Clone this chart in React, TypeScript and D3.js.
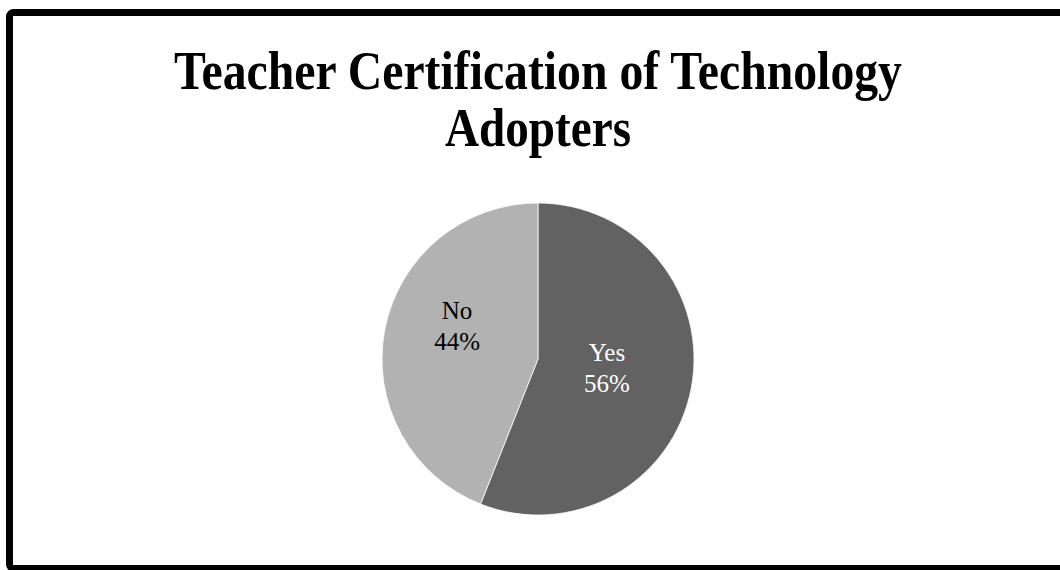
import React from "react";
import * as d3 from "d3";

const title = ["Teacher Certification of Technology", "Adopters"];
const categories = ["Yes", "No"];
const values = [56, 44];
const colors = ["#626262", "#b2b2b2"];
const labelColors = ["#ffffff", "#000000"];

const W = 1060;
const H = 570;

export default function App() {
  const cx = 538;
  const cy = 359;
  const r = 156;
  const pie = d3.pie<number>().sort(null).value((d) => d)(values);
  const arc = d3.arc<d3.PieArcDatum<number>>().innerRadius(0).outerRadius(r);
  const labelArc = d3.arc<d3.PieArcDatum<number>>().innerRadius(r * 0.45).outerRadius(r * 0.45);
  // best-fit nudges of the data labels (Excel-like placement)
  const nudge = [
    [0, -4],
    [-12, -20],
  ];
  const font = "'Liberation Serif', 'Times New Roman', serif";
  return (
    <svg
      width={W}
      height={H}
      style={{ position: "absolute", left: 0, top: 0, background: "#fff" }}
    >
      <rect x={9.5} y={12.5} width={W + 20} height={H - 14} rx={4} fill="#fff" stroke="#000" strokeWidth={7} />
      <text x={cx} y={89} textAnchor="middle" fontFamily={font} fontWeight="bold" fontSize={54} textLength={728} lengthAdjust="spacingAndGlyphs">
        {title[0]}
      </text>
      <text x={cx} y={146} textAnchor="middle" fontFamily={font} fontWeight="bold" fontSize={54} textLength={186} lengthAdjust="spacingAndGlyphs">
        {title[1]}
      </text>
      <g transform={`translate(${cx},${cy})`}>
        {pie.map((p, i) => (
          <path key={i} d={arc(p) || ""} fill={colors[i]} stroke="#ffffff" strokeWidth={0.75} />
        ))}
        {pie.map((p, i) => {
          const [x0, y0] = labelArc.centroid(p);
          const lx = x0 + nudge[i][0];
          const ly = y0 + nudge[i][1];
          return (
            <text key={"l" + i} x={lx} y={ly} textAnchor="middle" fontFamily={font} fontSize={25} fill={labelColors[i]}>
              <tspan x={lx} dy={-7}>{categories[i]}</tspan>
              <tspan x={lx} dy={31}>{`${values[i]}%`}</tspan>
            </text>
          );
        })}
      </g>
    </svg>
  );
}
